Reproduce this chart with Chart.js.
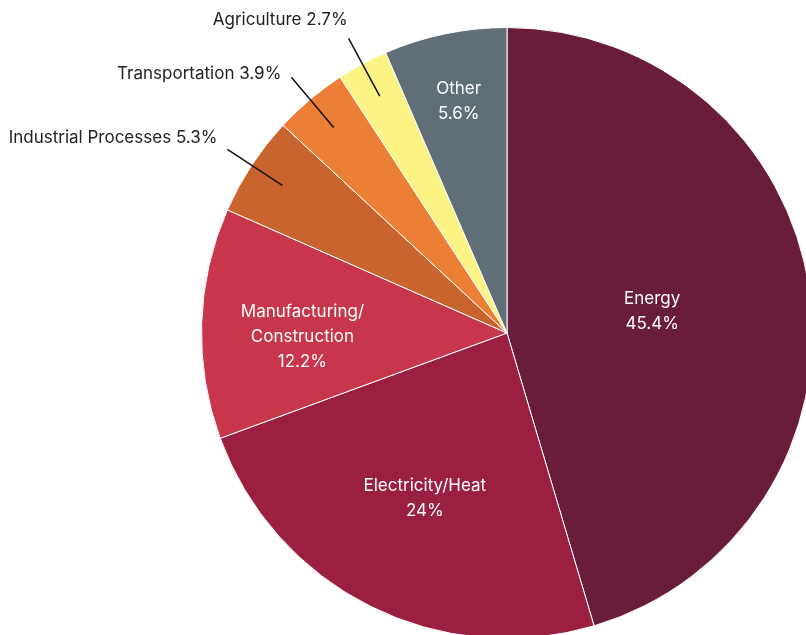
<!DOCTYPE html>
<html>
<head>
<meta charset="utf-8">
<script src="https://cdn.jsdelivr.net/npm/chart.js@4.4.1/dist/chart.umd.min.js"></script>
<style>
  html, body { margin: 0; padding: 0; background: #fff; overflow: hidden; }
  #wrap { position: relative; width: 806px; height: 635px; overflow: hidden; }
  #pie { position: absolute; left: 0; top: 0; }
</style>
</head>
<body>
<div id="wrap"><canvas id="pie" width="820" height="660"></canvas></div>
<script>
// ── data ────────────────────────────────────────────────
const sectors = ['Energy', 'Electricity/Heat', 'Manufacturing/\nConstruction',
                 'Industrial Processes', 'Transportation', 'Agriculture', 'Other'];
// slice sizes as drawn (share of the full circle)
const shares  = [45.4, 24, 12.2, 5.3, 3.9, 2.7, 6.5];
// percentages as printed on the chart
const printed = ['45.4%', '24%', '12.2%', '5.3%', '3.9%', '2.7%', '5.6%'];
const colors  = ['#6a1c3b', '#9a1f41', '#c8364b', '#c9642e', '#ec7f36', '#fbf383', '#5f6e77'];

// label placement: inside labels [radius fraction, dy], outside labels [dx, dy] from leader end
const inside  = { 0: [0.48, 0], 1: [0.6, 2], 2: [0.67, 10], 6: [0.78, 2] };
const outside = { 3: [-10, -11], 4: [-10, -3], 5: [-1, -18] };
const FONT = '17px Inter, "Noto Sans", sans-serif';

// ── label plugin ─────────────────────────────────────────
const sliceLabels = {
  id: 'sliceLabels',
  afterDatasetsDraw(chart) {
    const ctx = chart.ctx;
    const arcs = chart.getDatasetMeta(0).data;
    ctx.save();
    ctx.font = FONT;
    arcs.forEach((arc, i) => {
      const { x, y, startAngle, endAngle, outerRadius } = arc.getProps(
        ['x', 'y', 'startAngle', 'endAngle', 'outerRadius'], true);
      const mid = (startAngle + endAngle) / 2;
      const cos = Math.cos(mid), sin = Math.sin(mid);
      if (inside[i]) {
        const [f, dy] = inside[i];
        const r = outerRadius * f;
        const lines = (sectors[i] + '\n' + printed[i]).split('\n');
        const lh = 25;
        const cx = x + cos * r, cy = y + sin * r + dy - (lines.length - 1) * lh / 2;
        ctx.fillStyle = '#fff';
        ctx.textAlign = 'center';
        ctx.textBaseline = 'middle';
        lines.forEach((t, k) => ctx.fillText(t, cx, cy + k * lh));
      } else {
        const [dx, dy] = outside[i];
        const x1 = x + cos * outerRadius * 0.88, y1 = y + sin * outerRadius * 0.88;
        const x2 = x + cos * outerRadius * 1.095, y2 = y + sin * outerRadius * 1.095;
        ctx.strokeStyle = '#111';
        ctx.lineWidth = 1.5;
        ctx.beginPath();
        ctx.moveTo(x1, y1);
        ctx.lineTo(x2, y2);
        ctx.stroke();
        ctx.fillStyle = '#222';
        ctx.textAlign = 'right';
        ctx.textBaseline = 'middle';
        ctx.fillText(sectors[i] + ' ' + printed[i], x2 + dx, y2 + dy);
      }
    });
    ctx.restore();
  }
};

new Chart(document.getElementById('pie'), {
  type: 'pie',
  data: {
    labels: sectors,
    datasets: [{
      data: shares,
      backgroundColor: colors,
      borderColor: '#fff',
      borderWidth: 1
    }]
  },
  options: {
    responsive: false,
    animation: false,
    layout: { padding: { left: 201, top: 27, right: 7, bottom: 21 } },
    plugins: { legend: { display: false }, tooltip: { enabled: false } }
  },
  plugins: [sliceLabels]
});
</script>
</body>
</html>
